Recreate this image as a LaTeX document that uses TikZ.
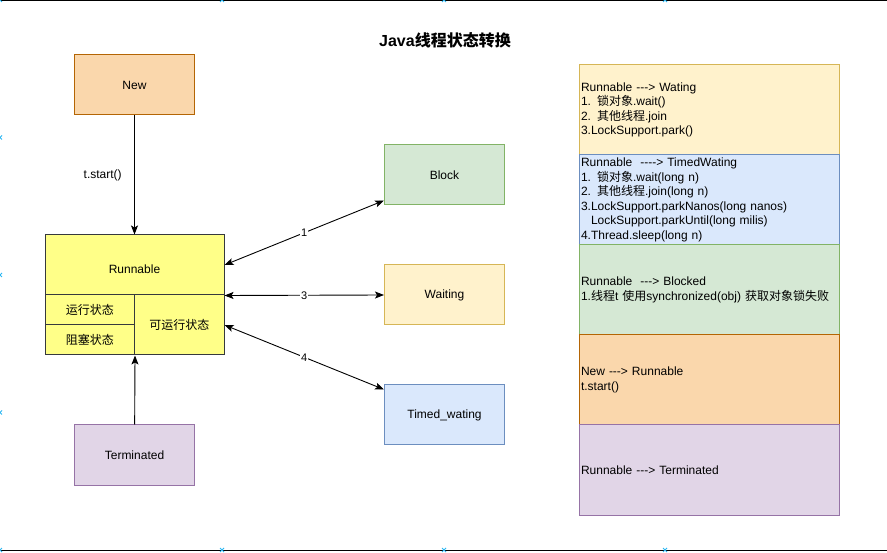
\documentclass[tikz,border=0pt]{standalone}
\usepackage{fontspec}
\setmainfont{Liberation Sans}[Ligatures=TeXOff]
\newfontfamily\zh{Noto Sans CJK SC}
\usepackage{xcolor}
\usetikzlibrary{positioning,arrows.meta}

\definecolor{newfill}{HTML}{FAD7AC}\definecolor{newline}{HTML}{B46504}
\definecolor{runfill}{HTML}{FFFF88}\definecolor{runline}{HTML}{36393D}
\definecolor{grnfill}{HTML}{D5E8D4}\definecolor{grnline}{HTML}{82B366}
\definecolor{ylwfill}{HTML}{FFF2CC}\definecolor{ylwline}{HTML}{D6B656}
\definecolor{blufill}{HTML}{DAE8FC}\definecolor{bluline}{HTML}{6C8EBF}
\definecolor{prpfill}{HTML}{E1D5E7}\definecolor{prpline}{HTML}{9673A6}
\definecolor{handle}{HTML}{29B6F2}

\begin{document}
\begin{tikzpicture}[
  x=1pt,y=-1pt,
  box/.style={draw,line width=1pt,font=\fontsize{12}{14}\selectfont,
              minimum width=120pt,minimum height=60pt,inner sep=0pt},
  part/.style={draw=runline,fill=runfill,line width=1pt,inner sep=0pt,
               font=\fontsize{12}{14}\selectfont},
  note/.style={draw,line width=1pt,minimum width=260pt,minimum height=90pt,
               text width=256pt,inner xsep=2pt,align=left,
               font=\fontsize{12}{14.5}\selectfont},
  arr/.style={-{Stealth[length=9pt,width=7pt,inset=2pt]},line width=0.9pt},
  darr/.style={{Stealth[length=9pt,width=7pt,inset=2pt]}-{Stealth[length=9pt,width=7pt,inset=2pt]},line width=0.9pt},
  lbl/.style={fill=white,inner sep=1pt,font=\fontsize{11}{13}\selectfont},
  hdl/.style={handle,line width=0.8pt},
]
\useasboundingbox (0,0) rectangle (887,553);
% frame
\draw[line width=1.5pt] (0,0.75) -- (887,0.75);
\draw[line width=1.5pt] (0,550.5) -- (887,550.5);
\foreach \hx/\hy in {0/0,222/0,444/0,665/0,0/137.5,0/275,0/412.5,0/550,222/550,444/550,665/550}
  \draw[hdl] (\hx-2,\hy-2) -- (\hx+2,\hy+2) (\hx-2,\hy+2) -- (\hx+2,\hy-2);

\node[font=\fontsize{16}{18}\selectfont\bfseries] (title) at (445,40) {Java{\zh 线程状态转换}};

% states
\node[box,fill=newfill,draw=newline] (new) at (134.5,85) {New};
\node[part,minimum width=179pt,minimum height=60pt,text height=17pt] (rtop) at (134.5,265) {Runnable};
\node[part,minimum width=89.5pt,minimum height=30pt] (ry) at (89.75,310) {\zh 运行状态};
\node[part,minimum width=89.5pt,minimum height=30pt] (rb) at (89.75,340) {\zh 阻塞状态};
\node[part,minimum width=89.5pt,minimum height=60pt] (rk) at (179.25,325) {\zh 可运行状态};
\node[box,fill=prpfill,draw=prpline] (term) at (134.5,455) {Terminated};
\node[box,fill=grnfill,draw=grnline] (blk) at (444.5,175) {Block};
\node[box,fill=ylwfill,draw=ylwline] (wait) at (444.5,295) {Waiting};
\node[box,fill=blufill,draw=bluline] (tw) at (444.5,415) {Timed\_wating};

\draw[arr] (new) -- (rtop) node[midway,left=9pt,font=\fontsize{12}{14}\selectfont] (st) {t.start()};
\draw[arr] (term) -- (rb.south east);
\draw[darr] (rtop.east) -- ([yshift=5pt]blk.south west) node[lbl,midway] (l1) {1};
\draw[darr] (rtop.south east) -- (wait.west) node[lbl,midway] (l3) {3};
\draw[darr] (rk.east) -- ([yshift=-5pt]tw.north west) node[lbl,midway] (l4) {4};

% transitions
\node[note,fill=ylwfill,draw=ylwline] (n1) at (709,110) {Runnable ---> Wating\\
1. {\zh 锁对象}.wait()\\
2. {\zh 其他线程}.join\\
3.LockSupport.park()};
\node[note,fill=blufill,draw=bluline] (n2) at (709,200) {Runnable\ \ ----> TimedWating\\
1. {\zh 锁对象}.wait(long n)\\
2. {\zh 其他线程}.join(long n)\\
3.LockSupport.parkNanos(long nanos)\\
\hspace*{10pt}LockSupport.parkUntil(long milis)\\
4.Thread.sleep(long n)};
\node[note,fill=grnfill,draw=grnline] (n3) at (709,290) {Runnable\ \ ---> Blocked\\
1.{\zh 线程}t {\zh 使用}synchronized(obj) {\zh 获取对象锁失败}};
\node[note,fill=newfill,draw=newline] (n4) at (709,380) {New ---> Runnable\\
t.start()};
\node[note,fill=prpfill,draw=prpline] (n5) at (709,470) {Runnable ---> Terminated};
\end{tikzpicture}
\end{document}
